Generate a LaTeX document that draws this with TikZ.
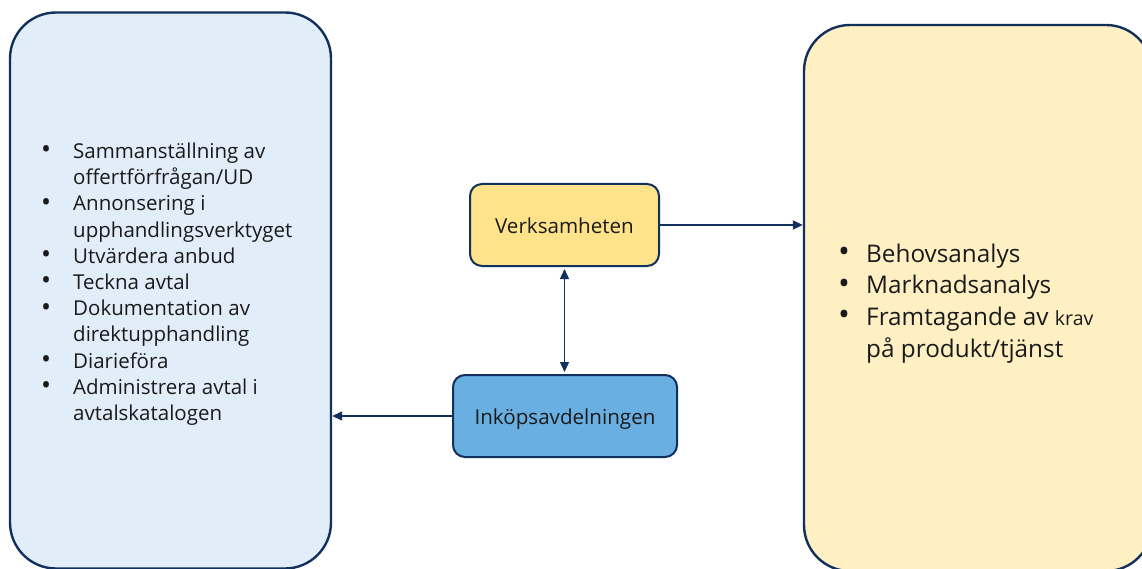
\documentclass[tikz,border=0pt]{standalone}
\usepackage{fontspec}
\setmainfont{Open Sans}
\usetikzlibrary{arrows.meta}
\definecolor{navy}{HTML}{12305C}
\definecolor{paleblue}{HTML}{E1EEF9}
\definecolor{paleyellow}{HTML}{FFF0C4}
\definecolor{gold}{HTML}{FFE38B}
\definecolor{midblue}{HTML}{6AAFE2}
\definecolor{ink}{HTML}{1A1A1A}
\newcommand{\blt}{\raisebox{-0.5pt}{\scalebox{1.3}{\textbullet}}}
\tikzset{
  bigbox/.style={draw=navy, line width=2.4pt, rounded corners=46pt, inner sep=0pt},
  actor/.style={draw=navy, line width=2pt, rounded corners=12pt, inner sep=0pt,
    text=ink, font=\fontsize{20.6}{24}\selectfont, text height=19pt, text depth=2pt},
  link/.style={draw=navy, line width=1.4pt, -{Triangle[length=10pt,width=9pt]}},
  biglink/.style={draw=navy, line width=1.4pt, {Triangle[length=10pt,width=9pt]}-{Triangle[length=10pt,width=9pt]}},
  listtext/.style={anchor=base west, inner sep=0pt, text=ink}
}
\begin{document}
\begin{tikzpicture}[x=1pt,y=-1pt]
\useasboundingbox (0,0) rectangle (1142,569);
\clip (0,0) rectangle (1142,569);
\fill[white] (0,0) rectangle (1142,569);

% large panels
\node[bigbox, fill=paleblue, minimum width=321pt, minimum height=556pt] (left) at (170.5,290.5) {};
\node[bigbox, fill=paleyellow, minimum width=348pt, minimum height=546pt] (right) at (978,298) {};

% actors
\node[actor, fill=gold, minimum width=189pt, minimum height=82pt] (verk) at (564.5,225) {Verksamheten};
\node[actor, fill=midblue, minimum width=224pt, minimum height=82pt] (inkop) at (565,416) {Inköpsavdelningen};

% task lists
\node[listtext, font=\fontsize{20.5}{26.2}\selectfont] (tasks) at (41,158.5) {%
\begin{tabular}[t]{@{}p{32pt}@{}l@{}}
\blt & Sammanställning av\\
 & offertförfrågan/UD\\
\blt & Annonsering i\\
 & upphandlingsverktyget\\
\blt & Utvärdera anbud\\
\blt & Teckna avtal\\
\blt & Dokumentation av\\
 & direktupphandling\\
\blt & Diarieföra\\
\blt & Administrera avtal i\\
 & avtalskatalogen
\end{tabular}};

\node[listtext, font=\fontsize{24.3}{31.7}\selectfont] (needs) at (838,262) {%
\begin{tabular}[t]{@{}p{28pt}@{}l@{}}
\blt & Behovsanalys\\
\blt & Marknadsanalys\\
\blt & Framtagande av {\fontsize{19.5}{22}\selectfont krav}\\
 & på produkt/tjänst
\end{tabular}};

% connectors
\draw[link] (verk.east) -- (verk.east -| right.west);
\draw[biglink] ([yshift=-2pt]verk.south) -- ([yshift=2pt]verk.south |- inkop.north);
\draw[link] (inkop.west) -- (inkop.west -| left.east);
\end{tikzpicture}
\end{document}
